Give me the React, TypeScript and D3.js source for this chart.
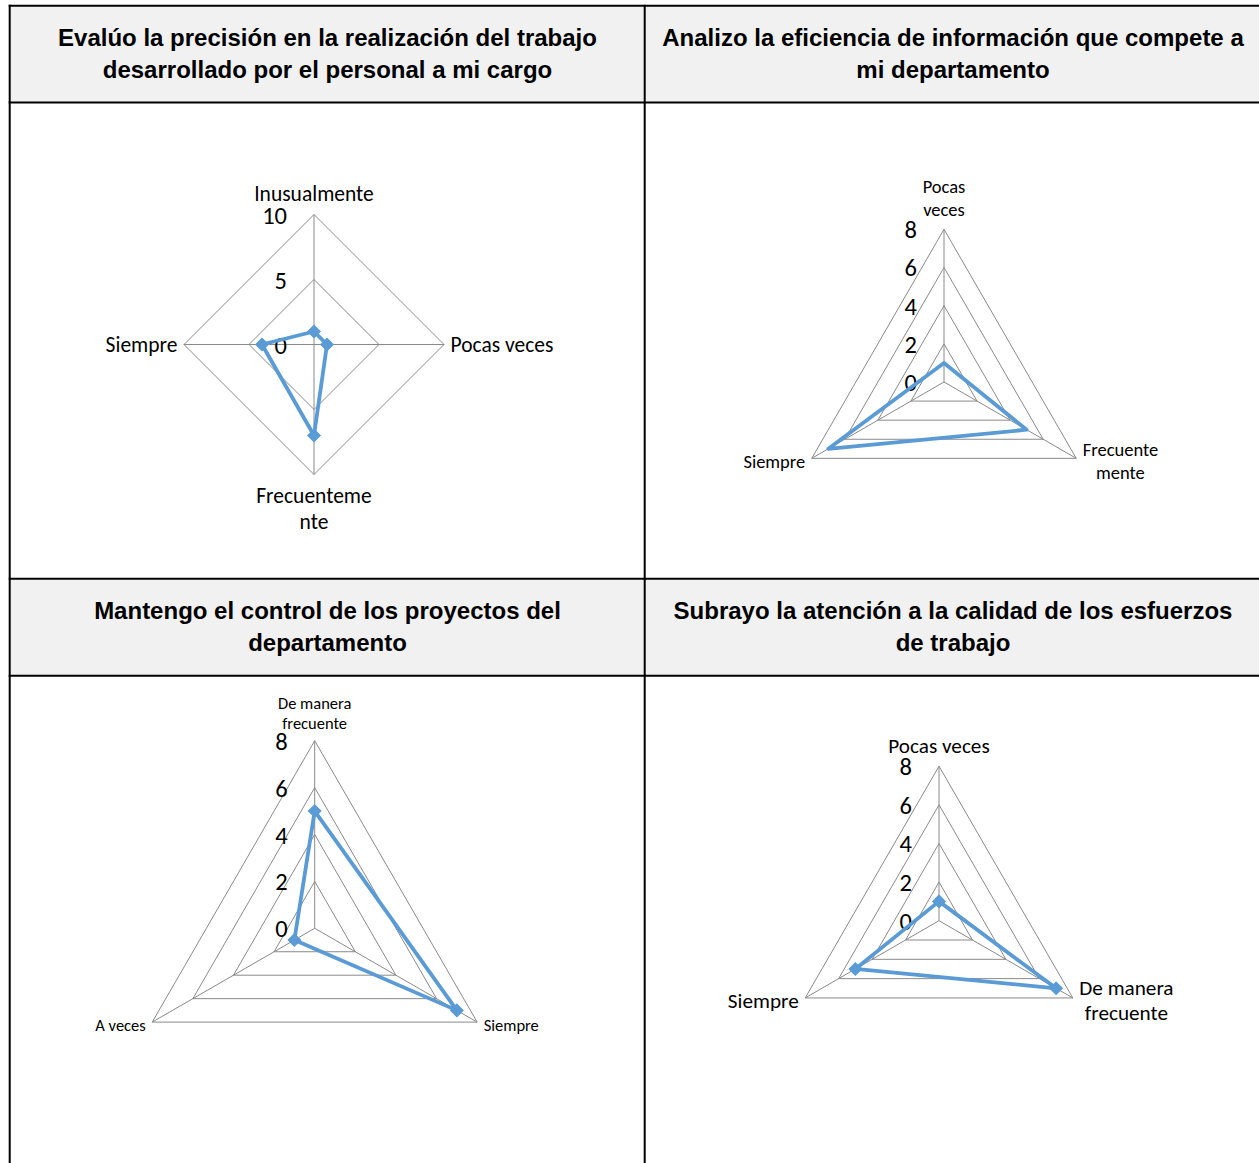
import React from "react";
import * as d3 from "d3";

const W = 1259;
const H = 1163;

// Panel titles (two lines each)
const titles: string[][] = [
  ["Evalúo la precisión en la realización del trabajo", "desarrollado por el personal a mi cargo"],
  ["Analizo la eficiencia de información que compete a", "mi departamento"],
  ["Mantengo el control de los proyectos del", "departamento"],
  ["Subrayo la atención a la calidad de los esfuerzos", "de trabajo"],
];

// Radar 1
const cats1: string[][] = [["Inusualmente"], ["Pocas veces"], ["Frecuenteme", "nte"], ["Siempre"]];
const vals1 = [1, 1, 7, 4];
const ticks1 = [0, 5, 10];

// Radar 2
const cats2: string[][] = [["Pocas", "veces"], ["Frecuente", "mente"], ["Siempre"]];
const vals2 = [1, 5, 7];
const ticks2 = [0, 2, 4, 6, 8];

// Radar 3
const cats3: string[][] = [["De manera", "frecuente"], ["Siempre"], ["A veces"]];
const vals3 = [5, 7, 1];
const ticks3 = [0, 2, 4, 6, 8];

// Radar 4
const cats4: string[][] = [["Pocas veces"], ["De manera", "frecuente"], ["Siempre"]];
const vals4 = [1, 7, 5];
const ticks4 = [0, 2, 4, 6, 8];

const SERIES = "#5B9BD5";
const GRID = "#8a8a8a";
const LABEL_FONT = "Carlito, Calibri, Lato, sans-serif";

let measureCtx: CanvasRenderingContext2D | null = null;
function textWidth(s: string, size: number): number {
  if (!measureCtx) measureCtx = document.createElement("canvas").getContext("2d");
  if (!measureCtx) return s.length * size * 0.5;
  measureCtx.font = `${size}px ${LABEL_FONT}`;
  return measureCtx.measureText(s).width;
}

type RadarProps = {
  cx: number;
  cy: number;
  r: number;
  cats: string[][];
  values: number[];
  ticks: number[];
  catSize: number;
  lineH: number;
  markers: boolean;
};

function Radar({ cx, cy, r, cats, values, ticks, catSize, lineH, markers }: RadarProps) {
  const n = cats.length;
  const max = ticks[ticks.length - 1];
  const rScale = d3.scaleLinear().domain([0, max]).range([0, r]);
  const angle = d3.scaleLinear().domain([0, n]).range([0, 2 * Math.PI]);
  const pt = (i: number, v: number): [number, number] => {
    const a = angle(i);
    return [cx + Math.sin(a) * rScale(v), cy - Math.cos(a) * rScale(v)];
  };

  const ring = d3
    .lineRadial<number>()
    .angle((_, i) => angle(i))
    .curve(d3.curveLinearClosed);

  const series = d3
    .lineRadial<number>()
    .angle((_, i) => angle(i))
    .radius((v) => rScale(v))
    .curve(d3.curveLinearClosed);

  return (
    <g>
      {ticks
        .filter((t) => t > 0)
        .map((t) => (
          <path
            key={"ring" + t}
            transform={`translate(${cx},${cy})`}
            d={ring.radius(() => rScale(t))(d3.range(n)) || ""}
            fill="none"
            stroke={GRID}
            strokeWidth={1}
          />
        ))}
      {d3.range(n).map((i) => {
        const [x, y] = pt(i, max);
        return <line key={"spoke" + i} x1={cx} y1={cy} x2={x} y2={y} stroke={GRID} strokeWidth={1} />;
      })}
      {ticks.map((t) => (
        <text
          key={"tick" + t}
          x={cx - 27}
          y={cy - rScale(t) + 1}
          textAnchor="end"
          dominantBaseline="central"
          fontFamily={LABEL_FONT}
          fontSize={24.5}
          fill="#000"
        >
          {t}
        </text>
      ))}
      <path
        transform={`translate(${cx},${cy})`}
        d={series(values) || ""}
        fill="none"
        stroke={SERIES}
        strokeWidth={3.8}
        strokeLinejoin="round"
      />
      {markers &&
        values.map((v, i) => {
          const [x, y] = pt(i, v);
          return (
            <path
              key={"m" + i}
              transform={`translate(${x},${y}) rotate(45)`}
              d={d3.symbol(d3.symbolSquare, 80)() || ""}
              fill={SERIES}
              stroke={SERIES}
              strokeWidth={1}
            />
          );
        })}
      {cats.map((lines, i) => {
        const a = angle(i);
        const [vx, vy] = pt(i, max);
        const s = Math.sin(a);
        const c = -Math.cos(a);
        let x = vx;
        let firstY = vy;
        if (Math.abs(s) < 0.1) {
          const off = lineH * 0.5 + 8;
          if (c < 0) firstY = vy - off - (lines.length - 1) * lineH;
          else firstY = vy + off;
        } else {
          // label box sits beside the vertex, lines centred within the box
          const boxW = d3.max(lines, (ln) => textWidth(ln, catSize)) || 0;
          x = s > 0 ? vx + 6.5 + boxW / 2 : vx - 6.5 - boxW / 2;
          const centerY = vy + (c > 0.1 ? 3 : 0);
          firstY = centerY - ((lines.length - 1) * lineH) / 2;
        }
        return (
          <text key={"cat" + i} textAnchor="middle" fontFamily={LABEL_FONT} fontSize={catSize} fill="#000">
            {lines.map((ln, j) => (
              <tspan key={j} x={x} y={firstY + j * lineH} dominantBaseline="central">
                {ln}
              </tspan>
            ))}
          </text>
        );
      })}
    </g>
  );
}

export default function App() {
  const xL = 9.7;
  const xM = 644.7;
  const xR = W + 2;
  const yRows = [5.7, 102.5, 578.7, 675.7];
  const headers = [
    { x0: xL, x1: xM, y0: yRows[0], y1: yRows[1], t: titles[0] },
    { x0: xM, x1: xR, y0: yRows[0], y1: yRows[1], t: titles[1] },
    { x0: xL, x1: xM, y0: yRows[2], y1: yRows[3], t: titles[2] },
    { x0: xM, x1: xR, y0: yRows[2], y1: yRows[3], t: titles[3] },
  ];
  return (
    <svg
      width={W}
      height={H}
      viewBox={`0 0 ${W} ${H}`}
      style={{ position: "absolute", left: 0, top: 0, display: "block", background: "#fff" }}
    >
      {headers.map((h, i) => (
        <g key={"h" + i}>
          <rect x={h.x0} y={h.y0} width={h.x1 - h.x0} height={h.y1 - h.y0} fill="#f1f1f1" />
          {h.t.map((ln, j) => (
            <text
              key={j}
              x={i % 2 === 0 ? 327.5 : 953}
              y={(h.y0 + h.y1) / 2 - 17 + j * 32}
              textAnchor="middle"
              dominantBaseline="central"
              fontFamily="'Liberation Sans', Arial, sans-serif"
              fontWeight="bold"
              fontSize={24}
              fill="#000"
            >
              {ln}
            </text>
          ))}
        </g>
      ))}
      {/* table rules */}
      {yRows.map((y, i) => (
        <line key={"hr" + i} x1={xL - 1} x2={xR} y1={y} y2={y} stroke="#000" strokeWidth={2} />
      ))}
      <line x1={xL} x2={xL} y1={yRows[0] - 1} y2={H} stroke="#000" strokeWidth={2} />
      <line x1={xM} x2={xM} y1={yRows[0] - 1} y2={H} stroke="#000" strokeWidth={2} />

      <Radar cx={314} cy={344.5} r={130} cats={cats1} values={vals1} ticks={ticks1} catSize={21.5} lineH={26} markers />
      <Radar cx={944} cy={382} r={152.7} cats={cats2} values={vals2} ticks={ticks2} catSize={18.5} lineH={23} markers={false} />
      <Radar cx={314.7} cy={928.3} r={187.6} cats={cats3} values={vals3} ticks={ticks3} catSize={16.5} lineH={20} markers />
      <Radar cx={939} cy={920.7} r={154.5} cats={cats4} values={vals4} ticks={ticks4} catSize={21.2} lineH={25} markers />
    </svg>
  );
}
